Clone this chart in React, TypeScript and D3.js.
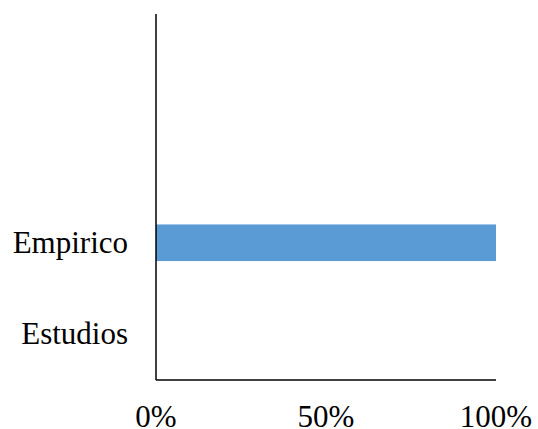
import React from "react";
import * as d3 from "d3";

const categories = ["Estudios", "Empirico", "", ""];
const values = [0, 1, 0, 0];
const xTicks = [0, 0.5, 1];

const W = 538;
const H = 429;

export default function App() {
  const x = d3.scaleLinear().domain([0, 1]).range([156, 496]);
  const y = d3
    .scaleBand<string>()
    .domain(categories.map((c, i) => String(i)))
    .range([380, 14])
    .paddingInner(0.6)
    .paddingOuter(0.3);
  const fmt = d3.format(".0%");
  const font = "'Times New Roman', 'Liberation Serif', Times, serif";

  return (
    <svg
      width={W}
      height={H}
      style={{ position: "absolute", left: 0, top: 0, display: "block", background: "#fff" }}
    >
      {values.map((v, i) =>
        v > 0 ? (
          <rect
            key={i}
            x={x(0)}
            y={y(String(i))!}
            width={x(v) - x(0)}
            height={y.bandwidth()}
            fill="#5B9BD5"
          />
        ) : null
      )}
      <line x1={x(0)} x2={x(0)} y1={14} y2={380} stroke="#000" strokeWidth={1.5} />
      <line x1={x(0)} x2={x(1)} y1={380} y2={380} stroke="#000" strokeWidth={1.5} />
      {categories.map((c, i) => (
        <text
          key={i}
          x={128}
          y={y(String(i))! + y.bandwidth() / 2 + 10}
          textAnchor="end"
          style={{ fontFamily: font, fontSize: 31 }}
          fill="#000"
        >
          {c}
        </text>
      ))}
      {xTicks.map((t) => (
        <text
          key={t}
          x={x(t)}
          y={427}
          textAnchor="middle"
          style={{ fontFamily: font, fontSize: 31 }}
          fill="#000"
        >
          {fmt(t)}
        </text>
      ))}
    </svg>
  );
}
